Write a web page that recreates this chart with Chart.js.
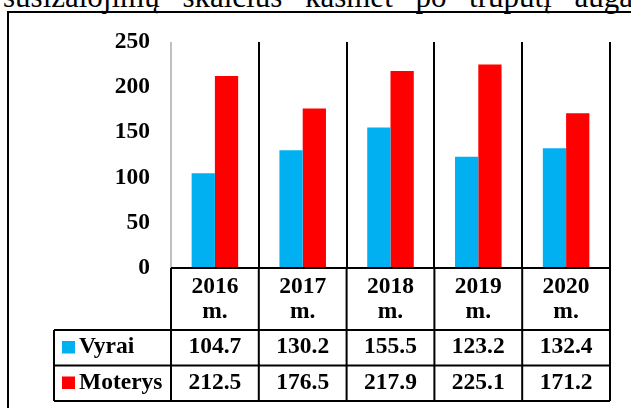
<!DOCTYPE html>
<html>
<head>
<meta charset="utf-8">
<script src="https://cdn.jsdelivr.net/npm/chart.js@4/dist/chart.umd.min.js"></script>
<style>
  body { margin: 0; background: #fff; }
  #page { position: relative; width: 631px; height: 408px; overflow: hidden; }
  #caption {
    position: absolute; left: 3px; width: 630px; top: -18px;
    display: flex; justify-content: space-between;
    font: 31px/30px "Liberation Serif", serif; color: #000; white-space: nowrap;
  }
  #frame {
    position: absolute; left: 7px; top: 11px; width: 700px; height: 500px;
    border-left: 2px solid #000; border-top: 2px solid #000;
  }
  #chart { position: absolute; left: 0; top: 0; }
</style>
</head>
<body>
<div id="page">
  <div id="caption">
    <span>susižalojimų</span><span>skaičius</span><span>kasmet</span><span>po</span><span>truputį</span><span>auga</span>
  </div>
  <div id="frame"></div>
  <canvas id="chart" width="631" height="408"></canvas>
</div>
<script>
const years = ["2016", "2017", "2018", "2019", "2020"];
const yearSuffix = "m.";
const seriesNames = ["Vyrai", "Moterys"];
const vyrai = [104.7, 130.2, 155.5, 123.2, 132.4];
const moterys = [212.5, 176.5, 217.9, 225.1, 171.2];
const yTicks = [0, 50, 100, 150, 200, 250];

const FONT = 'bold 23.5px "Liberation Serif"';

// data table drawn under the plot, like Excel's "data table"
const dataTable = {
  id: "dataTable",
  afterDraw(chart) {
    const { ctx, chartArea, scales } = chart;
    const x = scales.x;
    const n = years.length;
    const cw = (chartArea.right - chartArea.left) / n;
    const top = chartArea.bottom;
    const headBottom = top + 62;
    const rowH = 35.5;
    const bottom = headBottom + rowH * chart.data.datasets.length;
    const legLeft = 54;

    ctx.save();
    ctx.strokeStyle = "#000";
    ctx.lineWidth = 2;
    ctx.beginPath();
    ctx.moveTo(chartArea.left, top);
    ctx.lineTo(chartArea.right, top);
    for (let r = 0; r <= chart.data.datasets.length; r++) {
      const y = headBottom + r * rowH;
      ctx.moveTo(legLeft, y);
      ctx.lineTo(chartArea.right, y);
    }
    for (let i = 0; i <= n; i++) {
      const xx = chartArea.left + i * cw;
      ctx.moveTo(xx, top);
      ctx.lineTo(xx, bottom);
    }
    ctx.moveTo(legLeft, headBottom);
    ctx.lineTo(legLeft, bottom);
    ctx.stroke();

    ctx.fillStyle = "#000";
    ctx.font = FONT;
    ctx.textAlign = "center";
    ctx.textBaseline = "middle";
    chart.data.labels.forEach((lab, i) => {
      const cx = x.getPixelForValue(i);
      ctx.fillText(lab[0], cx, top + 19);
      ctx.fillText(lab[1], cx, top + 44);
    });

    chart.data.datasets.forEach((ds, r) => {
      const cy = headBottom + r * rowH + 17;
      ds.data.forEach((v, i) => {
        ctx.fillStyle = "#000";
        ctx.textAlign = "center";
        ctx.fillText(v.toFixed(1), x.getPixelForValue(i), cy);
      });
      ctx.fillStyle = ds.backgroundColor;
      ctx.fillRect(legLeft + 8, cy - 6, 13, 12.5);
      ctx.fillStyle = "#000";
      ctx.textAlign = "left";
      ctx.fillText(ds.label, legLeft + 25, cy);
    });
    ctx.restore();
  }
};

new Chart(document.getElementById("chart"), {
  type: "bar",
  data: {
    labels: years.map(y => [y, yearSuffix]),
    datasets: [
      { label: seriesNames[0], data: vyrai, backgroundColor: "#00B0F0" },
      { label: seriesNames[1], data: moterys, backgroundColor: "#FF0000" }
    ]
  },
  options: {
    responsive: false,
    animation: false,
    layout: { padding: { left: 0, right: 21, top: 42, bottom: 140 } },
    datasets: { bar: { categoryPercentage: 0.53, barPercentage: 1 } },
    plugins: { legend: { display: false }, tooltip: { enabled: false } },
    scales: {
      x: {
        ticks: { display: false },
        border: { display: false },
        grid: {
          offset: true,
          drawTicks: false,
          color: c => (c.index === 0 || c.index === years.length) ? "#c0c0c0" : "#000",
          lineWidth: 2
        },
        afterFit: s => { s.height = 0; s.paddingLeft = 0; s.paddingRight = 0; }
      },
      y: {
        min: yTicks[0],
        max: yTicks[yTicks.length - 1],
        ticks: {
          stepSize: 50,
          padding: 21,
          color: "#000",
          font: { family: "Liberation Serif", size: 23.5, weight: "bold" }
        },
        border: { display: false },
        grid: { display: false, drawTicks: false },
        afterFit: s => { s.width = 171; s.paddingTop = 0; s.paddingBottom = 0; }
      }
    }
  },
  plugins: [dataTable]
});
</script>
</body>
</html>
